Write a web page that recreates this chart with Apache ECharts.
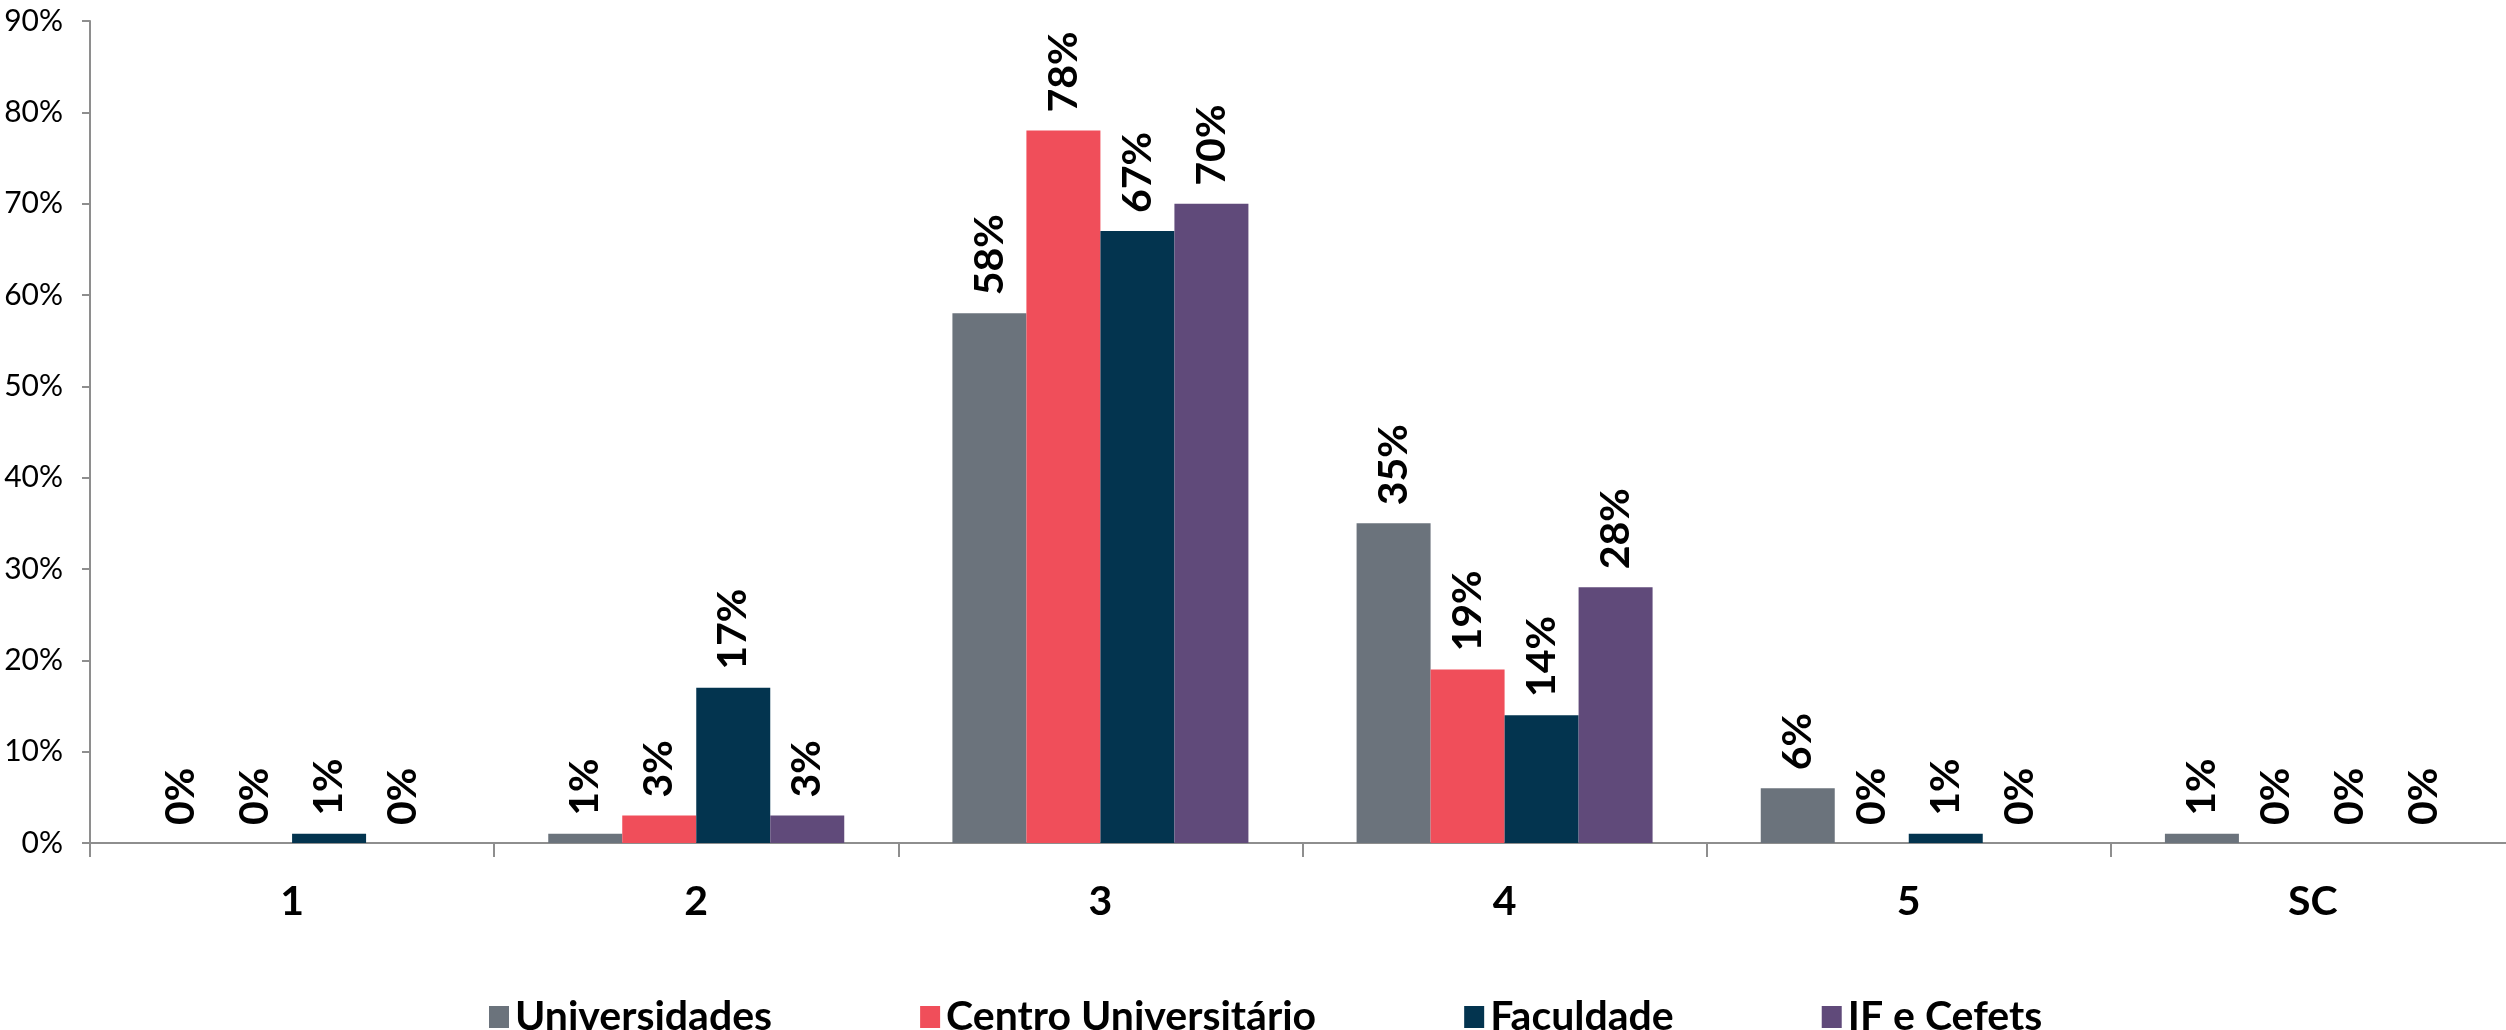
<!DOCTYPE html>
<html>
<head>
<meta charset="utf-8">
<script src="https://cdn.jsdelivr.net/npm/echarts@6/dist/echarts.min.js"></script>
<style>
  html, body { margin: 0; padding: 0; background: #ffffff; overflow: hidden; }
  #chart { width: 2520px; height: 1030px; }
</style>
</head>
<body>
<div id="chart"></div>
<script>
// Categories on the x axis
const categories = ['1', '2', '3', '4', '5', 'SC'];

// Share of each institution type per category (%)
const universidades = [0, 1, 58, 35, 6, 1];
const centroUniversitario = [0, 3, 78, 19, 0, 0];
const faculdade = [1, 17, 67, 14, 1, 0];
const ifCefets = [0, 3, 70, 28, 0, 0];

const seriesNames = ['Universidades', 'Centro Universitário', 'Faculdade', 'IF e Cefets'];
const seriesColors = ['#6B737C', '#F04E5A', '#03344F', '#604A7A'];

// Y axis ticks 0%..90%
const yMin = 0;
const yMax = 90;
const yStep = 10;

const FONT = 'Lato, "Noto Sans", sans-serif';
const axisGray = '#8E8E8E';

const chart = echarts.init(document.getElementById('chart'), null, { renderer: 'canvas' });

const seriesData = [universidades, centroUniversitario, faculdade, ifCefets];

const option = {
  backgroundColor: '#ffffff',
  animation: false,
  textStyle: { fontFamily: FONT },
  grid: { left: 90, top: 21, width: 2425, bottom: 187, containLabel: false },
  legend: {
    data: seriesNames,
    left: 484,
    top: 990,
    icon: 'rect',
    itemWidth: 20,
    itemHeight: 22,
    itemGap: 148,
    textStyle: {
      fontFamily: FONT,
      fontWeight: 'bold',
      fontSize: 41,
      color: '#000000',
      lineHeight: 44,
      padding: [0, 0, 0, 1]
    }
  },
  xAxis: {
    type: 'category',
    data: categories,
    axisLine: { show: true, lineStyle: { color: axisGray, width: 2 } },
    axisTick: { show: true, length: 14, lineStyle: { color: axisGray, width: 2 } },
    axisLabel: {
      margin: 38,
      fontFamily: FONT,
      fontWeight: 'bold',
      fontSize: 41,
      color: '#000000'
    },
    splitLine: { show: false }
  },
  yAxis: {
    type: 'value',
    min: yMin,
    max: yMax,
    interval: yStep,
    axisLine: { show: true, lineStyle: { color: axisGray, width: 2 } },
    axisTick: { show: true, length: 8, lineStyle: { color: axisGray, width: 2 } },
    axisLabel: {
      margin: 27,
      formatter: '{value}%',
      fontFamily: FONT,
      fontSize: 30,
      color: '#000000'
    },
    splitLine: { show: false }
  },
  series: seriesNames.map((name, i) => ({
    name: name,
    type: 'bar',
    data: seriesData[i],
    barWidth: 74,
    barGap: '0%',
    itemStyle: { color: seriesColors[i] },
    label: {
      show: true,
      position: 'top',
      distance: 18,
      rotate: 90,
      align: 'left',
      verticalAlign: 'middle',
      formatter: '{c}%',
      fontFamily: FONT,
      fontWeight: 'bold',
      fontSize: 41,
      color: '#000000'
    }
  }))
};

chart.setOption(option);
</script>
</body>
</html>
